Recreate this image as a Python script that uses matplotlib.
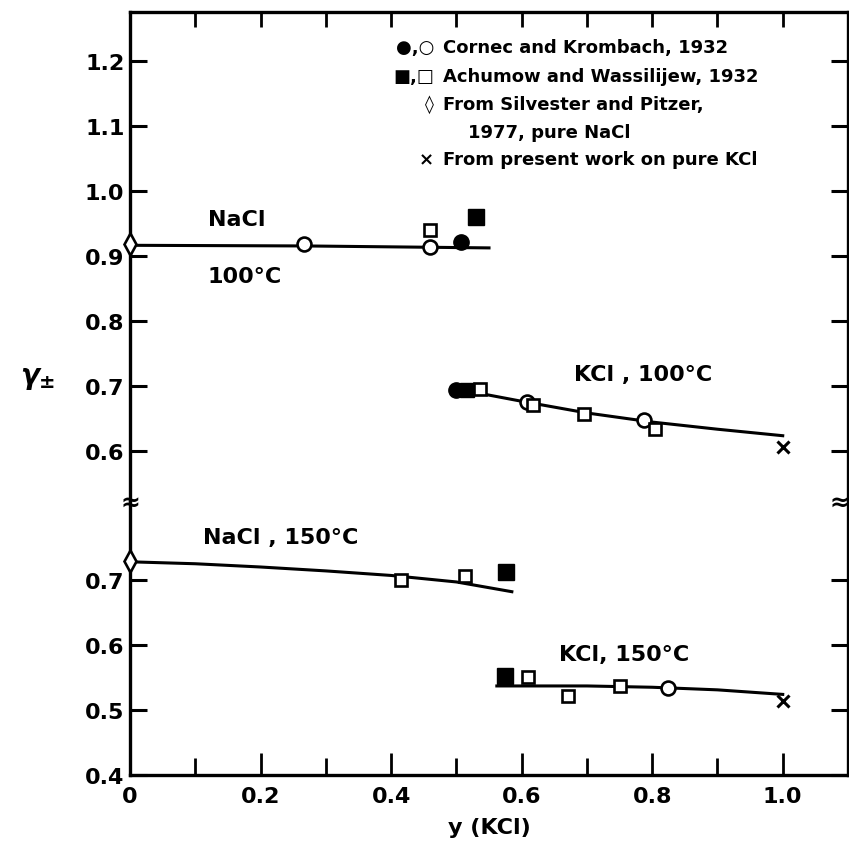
import numpy as np
import matplotlib
matplotlib.use("Agg")
import matplotlib.pyplot as plt
from matplotlib.ticker import MultipleLocator, FixedLocator

plt.rcParams['font.family'] = ['DejaVu Sans']
plt.rcParams['font.weight'] = 'bold'

# NaCl, 100 C (upper panel)
nacl100_diamond_x, nacl100_diamond_y = [0.0], [0.918]
nacl100_ocirc_x, nacl100_ocirc_y = [0.266, 0.459], [0.918, 0.913]
nacl100_fcirc_x, nacl100_fcirc_y = [0.507], [0.921]
nacl100_osq_x, nacl100_osq_y = [0.459], [0.939]
nacl100_fsq_x, nacl100_fsq_y = [0.530], [0.959]
nacl100_curve_x = [0.0, 0.27, 0.55]
nacl100_curve_y = [0.916, 0.915, 0.912]

# KCl, 100 C (upper panel)
kcl100_fcirc_x, kcl100_fcirc_y = [0.500], [0.694]
kcl100_fsq_x, kcl100_fsq_y = [0.516], [0.694]
kcl100_osq_x = [0.536, 0.617, 0.695, 0.804]
kcl100_osq_y = [0.695, 0.670, 0.656, 0.634]
kcl100_ocirc_x, kcl100_ocirc_y = [0.608, 0.787], [0.675, 0.647]
kcl100_cross_x, kcl100_cross_y = [1.0], [0.605]
kcl100_curve_x = [0.50, 0.60, 0.70, 0.80, 0.90, 1.00]
kcl100_curve_y = [0.695, 0.676, 0.658, 0.644, 0.633, 0.623]

# NaCl, 150 C (lower panel)
nacl150_diamond_x, nacl150_diamond_y = [0.0], [0.729]
nacl150_osq_x, nacl150_osq_y = [0.415, 0.513], [0.700, 0.706]
nacl150_fsq_x, nacl150_fsq_y = [0.576], [0.712]
nacl150_curve_x = [0.0, 0.1, 0.2, 0.3, 0.4, 0.5, 0.585]
nacl150_curve_y = [0.728, 0.725, 0.720, 0.714, 0.707, 0.697, 0.682]

# KCl, 150 C (lower panel)
kcl150_fsq_x, kcl150_fsq_y = [0.575], [0.553]
kcl150_osq_x, kcl150_osq_y = [0.609, 0.671, 0.750], [0.551, 0.522, 0.537]
kcl150_ocirc_x, kcl150_ocirc_y = [0.824], [0.534]
kcl150_cross_x, kcl150_cross_y = [1.0], [0.514]
kcl150_curve_x = [0.562, 0.70, 0.80, 0.90, 1.00]
kcl150_curve_y = [0.537, 0.537, 0.535, 0.531, 0.524]

top_yticks = [0.6, 0.7, 0.8, 0.9, 1.0, 1.1, 1.2]
bot_yticks = [0.4, 0.5, 0.6, 0.7]
xtick_vals = [0.0, 0.2, 0.4, 0.6, 0.8, 1.0]
xtick_labels = ["0", "0.2", "0.4", "0.6", "0.8", "1.0"]

legend_rows = [
    ("●,○", "Cornec and Krombach, 1932"),
    ("■,□", "Achumow and Wassilijew, 1932"),
    ("◊", "From Silvester and Pitzer,"),
    ("", "    1977, pure NaCl"),
    ("×", "From present work on pure KCl"),
]

W, H = 849, 854
fig = plt.figure(figsize=(W / 100, H / 100), dpi=100)
x0, x1 = 130, 848
ybrk, ytop, ybot = 503, 13, 776
ax_top = fig.add_axes([x0 / W, 1 - ybrk / H, (x1 - x0) / W, (ybrk - ytop) / H])
ax_bot = fig.add_axes([x0 / W, 1 - ybot / H, (x1 - x0) / W, (ybot - ybrk) / H])

lw = 2.2
mk = dict(color='black', linestyle='none', clip_on=False, zorder=3)


def open_m(ax, x, y, m, s):
    ax.plot(x, y, marker=m, markersize=s, markerfacecolor='white',
            markeredgecolor='black', markeredgewidth=1.9, **mk)


def fill_m(ax, x, y, m, s):
    ax.plot(x, y, marker=m, markersize=s, markerfacecolor='black',
            markeredgecolor='black', **mk)


def cross(ax, x, y):
    ax.plot(x, y, marker='x', markersize=8, markeredgewidth=2.2, **mk)


# upper panel
ax_top.plot(nacl100_curve_x, nacl100_curve_y, color='black', lw=lw, zorder=2)
ax_top.plot(kcl100_curve_x, kcl100_curve_y, color='black', lw=lw, zorder=2)
open_m(ax_top, nacl100_diamond_x, nacl100_diamond_y, 'd', 11)
open_m(ax_top, nacl100_ocirc_x, nacl100_ocirc_y, 'o', 10)
fill_m(ax_top, nacl100_fcirc_x, nacl100_fcirc_y, 'o', 11)
open_m(ax_top, nacl100_osq_x, nacl100_osq_y, 's', 9)
fill_m(ax_top, nacl100_fsq_x, nacl100_fsq_y, 's', 11)
fill_m(ax_top, kcl100_fcirc_x, kcl100_fcirc_y, 'o', 11)
fill_m(ax_top, kcl100_fsq_x, kcl100_fsq_y, 's', 10)
open_m(ax_top, kcl100_ocirc_x, kcl100_ocirc_y, 'o', 10)
open_m(ax_top, kcl100_osq_x, kcl100_osq_y, 's', 9)
cross(ax_top, kcl100_cross_x, kcl100_cross_y)

# lower panel
ax_bot.plot(nacl150_curve_x, nacl150_curve_y, color='black', lw=lw, zorder=2)
ax_bot.plot(kcl150_curve_x, kcl150_curve_y, color='black', lw=lw, zorder=2)
open_m(ax_bot, nacl150_diamond_x, nacl150_diamond_y, 'd', 11)
open_m(ax_bot, nacl150_osq_x, nacl150_osq_y, 's', 9)
fill_m(ax_bot, nacl150_fsq_x, nacl150_fsq_y, 's', 11)
fill_m(ax_bot, kcl150_fsq_x, kcl150_fsq_y, 's', 11)
open_m(ax_bot, kcl150_osq_x, kcl150_osq_y, 's', 9)
open_m(ax_bot, kcl150_ocirc_x, kcl150_ocirc_y, 'o', 10)
cross(ax_bot, kcl150_cross_x, kcl150_cross_y)

# axes styling
for ax in (ax_top, ax_bot):
    ax.set_xlim(0, 1.1)
    for s in ax.spines.values():
        s.set_linewidth(2.4)
    ax.tick_params(axis='y', direction='in', left=True, right=True,
                   length=12, width=2.2, labelsize=16, pad=4)
    ax.tick_params(axis='x', which='both', direction='in', width=2.0)

ax_top.set_ylim(0.521, 1.275)
ax_top.spines['bottom'].set_visible(False)
ax_top.yaxis.set_major_locator(FixedLocator(top_yticks))
ax_top.set_yticklabels([f"{v:.1f}" for v in top_yticks])
ax_top.xaxis.set_major_locator(MultipleLocator(0.1))
ax_top.tick_params(axis='x', bottom=False, top=True, labelbottom=False, length=11)

ax_bot.set_ylim(0.4, 0.82)
ax_bot.spines['top'].set_visible(False)
ax_bot.yaxis.set_major_locator(FixedLocator(bot_yticks))
ax_bot.set_yticklabels([f"{v:.1f}" for v in bot_yticks])
ax_bot.set_xticks(xtick_vals)
ax_bot.set_xticklabels(xtick_labels)
ax_bot.xaxis.set_minor_locator(MultipleLocator(0.1))
ax_bot.tick_params(axis='x', which='major', length=16, labelsize=16, pad=8)
ax_bot.tick_params(axis='x', which='minor', length=12)
ax_bot.set_xlabel("y (KCl)", fontsize=16, fontweight='bold', labelpad=8)

# axis break marks
fig.text(x0 / W, 1 - ybrk / H, "≈", fontsize=17, ha='center', va='center')
fig.text(1.0, 1 - ybrk / H, "≈", fontsize=17, ha='right', va='center')

fig.text(38 / W, 1 - 378 / H, r"$\gamma_{\pm}$", fontsize=20, ha='center', va='center')

# curve labels
ax_top.text(0.164, 0.956, "NaCl", fontsize=16, ha='center', va='center')
ax_top.text(0.176, 0.869, "100°C", fontsize=16, ha='center', va='center')
ax_top.text(0.786, 0.718, "KCl , 100°C", fontsize=16, ha='center', va='center')
ax_bot.text(0.112, 0.766, "NaCl , 150°C", fontsize=16, ha='left', va='center')
ax_bot.text(0.658, 0.586, "KCl, 150°C", fontsize=16, ha='left', va='center')

# legend block
row_y = [48, 77, 105, 133, 160]
for (sym, desc), yp in zip(legend_rows, row_y):
    if sym:
        fig.text(434 / W, 1 - yp / H, sym, fontsize=13, ha='right', va='center')
    fig.text(443 / W, 1 - yp / H, desc, fontsize=13, ha='left', va='center')

fig.savefig("out.png", dpi=100)
